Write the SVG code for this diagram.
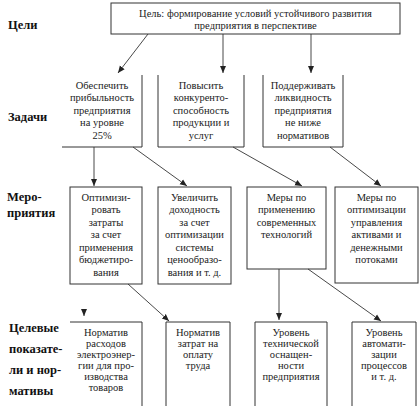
<svg xmlns="http://www.w3.org/2000/svg" width="420" height="406" viewBox="0 0 420 406">
<style>
.box{fill:none;stroke:#333;stroke-width:1}
.t{font-family:'Liberation Serif','Times New Roman','DejaVu Serif',serif;font-size:10.5px;fill:#222;text-anchor:middle}
.lbl{font-family:'Liberation Serif','Times New Roman','DejaVu Serif',serif;font-size:12.5px;font-weight:bold;fill:#111}
.c{fill:none;stroke:#333;stroke-width:0.9;marker-end:url(#ah)}
</style>
<defs>
<marker id="ah" markerUnits="userSpaceOnUse" markerWidth="8" markerHeight="8" viewBox="0 0 8 8" refX="7" refY="4" orient="auto">
<path d="M0,1 L7,4 L0,7 Z" fill="#222"/>
</marker>
</defs>
<rect width="420" height="406" fill="#fff"/>

<g id="labels" font-family="Liberation Serif, serif">
<text class="lbl" x="8" y="29">Цели</text>
<text class="lbl" x="8" y="121">Задачи</text>
<text class="lbl" x="7" y="201">Меро-</text>
<text class="lbl" x="7" y="217">приятия</text>
<text class="lbl" x="9" y="332">Целевые</text>
<text class="lbl" x="9" y="353">показате-</text>
<text class="lbl" x="9" y="374">ли и нор-</text>
<text class="lbl" x="9" y="395">мативы</text>
</g>

<g id="goal">
<rect class="box" x="111" y="3" width="289" height="31"/>
<text class="t" x="255.5" y="17">Цель: формирование условий устойчивого развития</text>
<text class="t" x="255.5" y="29">предприятия в перспективе</text>
</g>

<g id="task1">
<path class="box" d="M142,75 V147 H62"/>
<text class="t" x="102" y="88.5">Обеспечить</text>
<text class="t" x="102" y="101">прибыльность</text>
<text class="t" x="102" y="113.5">предприятия</text>
<text class="t" x="102" y="126">на уровне</text>
<text class="t" x="102" y="138.5">25%</text>
</g>
<g id="task2">
<path class="box" d="M158,75 V147 H244 V75"/>
<text class="t" x="201" y="88.5">Повысить</text>
<text class="t" x="201" y="101">конкуренто-</text>
<text class="t" x="201" y="113.5">способность</text>
<text class="t" x="201" y="126">продукции и</text>
<text class="t" x="201" y="138.5">услуг</text>
</g>
<g id="task3">
<path class="box" d="M263,75 V147 H343 V75"/>
<text class="t" x="303" y="88.5">Поддерживать</text>
<text class="t" x="303" y="101">ликвидность</text>
<text class="t" x="303" y="113.5">предприятия</text>
<text class="t" x="303" y="126">не ниже</text>
<text class="t" x="303" y="138.5">нормативов</text>
</g>

<g id="measure1">
<rect class="box" x="70" y="187" width="72" height="97"/>
<text class="t" x="106" y="200.5">Оптимизи-</text>
<text class="t" x="106" y="213">ровать</text>
<text class="t" x="106" y="225.5">затраты</text>
<text class="t" x="106" y="238">за счет</text>
<text class="t" x="106" y="250.5">применения</text>
<text class="t" x="106" y="263">бюджетиро-</text>
<text class="t" x="106" y="275.5">вания</text>
</g>
<g id="measure2">
<rect class="box" x="158" y="187" width="73" height="97"/>
<text class="t" x="194.5" y="200.5">Увеличить</text>
<text class="t" x="194.5" y="213">доходность</text>
<text class="t" x="194.5" y="225.5">за счет</text>
<text class="t" x="194.5" y="238">оптимизации</text>
<text class="t" x="194.5" y="250.5">системы</text>
<text class="t" x="194.5" y="263">ценообразо-</text>
<text class="t" x="194.5" y="275.5">вания и т. д.</text>
</g>
<g id="measure3">
<rect class="box" x="247" y="187" width="79" height="82"/>
<text class="t" x="286.5" y="200.5">Меры по</text>
<text class="t" x="286.5" y="213">применению</text>
<text class="t" x="286.5" y="225.5">современных</text>
<text class="t" x="286.5" y="238">технологий</text>
</g>
<g id="measure4">
<rect class="box" x="335" y="187" width="83" height="96"/>
<text class="t" x="376.5" y="200.5">Меры по</text>
<text class="t" x="376.5" y="213">оптимизации</text>
<text class="t" x="376.5" y="225.5">управления</text>
<text class="t" x="376.5" y="238">активами и</text>
<text class="t" x="376.5" y="250.5">денежными</text>
<text class="t" x="376.5" y="263">потоками</text>
</g>

<g id="target1">
<path class="box" d="M70,322 H142 V406"/>
<text class="t" x="106" y="335.5">Норматив</text>
<text class="t" x="106" y="346.5">расходов</text>
<text class="t" x="106" y="357.5">электроэнер-</text>
<text class="t" x="106" y="368.5">гии для про-</text>
<text class="t" x="106" y="379.5">изводства</text>
<text class="t" x="106" y="390.5">товаров</text>
</g>
<g id="target2">
<path class="box" d="M166,406 V322 H230 V406"/>
<text class="t" x="198" y="335.5">Норматив</text>
<text class="t" x="198" y="346.5">затрат на</text>
<text class="t" x="198" y="357.5">оплату</text>
<text class="t" x="198" y="368.5">труда</text>
</g>
<g id="target3">
<path class="box" d="M255,406 V322 H327 V406"/>
<text class="t" x="291" y="335.5">Уровень</text>
<text class="t" x="291" y="346.5">технической</text>
<text class="t" x="291" y="357.5">оснащен-</text>
<text class="t" x="291" y="368.5">ности</text>
<text class="t" x="291" y="379.5">предприятия</text>
</g>
<g id="target4">
<path class="box" d="M352,406 V322 H416 V406"/>
<text class="t" x="384" y="335.5">Уровень</text>
<text class="t" x="384" y="346.5">автомати-</text>
<text class="t" x="384" y="357.5">зации</text>
<text class="t" x="384" y="368.5">процессов</text>
<text class="t" x="384" y="379.5">и т. д.</text>
</g>

<g id="connectors">
<line class="c" x1="148" y1="34" x2="118" y2="73"/>
<line class="c" x1="223" y1="34" x2="223" y2="73"/>
<line class="c" x1="311" y1="34" x2="311" y2="73"/>
<line class="c" x1="94" y1="147" x2="94" y2="186"/>
<line class="c" x1="133" y1="147" x2="187" y2="186"/>
<line class="c" x1="233" y1="147" x2="302" y2="186"/>
<line class="c" x1="330" y1="147" x2="381" y2="186"/>
<line class="c" x1="128" y1="284" x2="169" y2="321"/>
<line class="c" x1="279" y1="269" x2="279" y2="320"/>
<line class="c" x1="308" y1="269" x2="381" y2="321"/>
<line class="c" x1="84" y1="309" x2="84" y2="316"/>
</g>
</svg>
